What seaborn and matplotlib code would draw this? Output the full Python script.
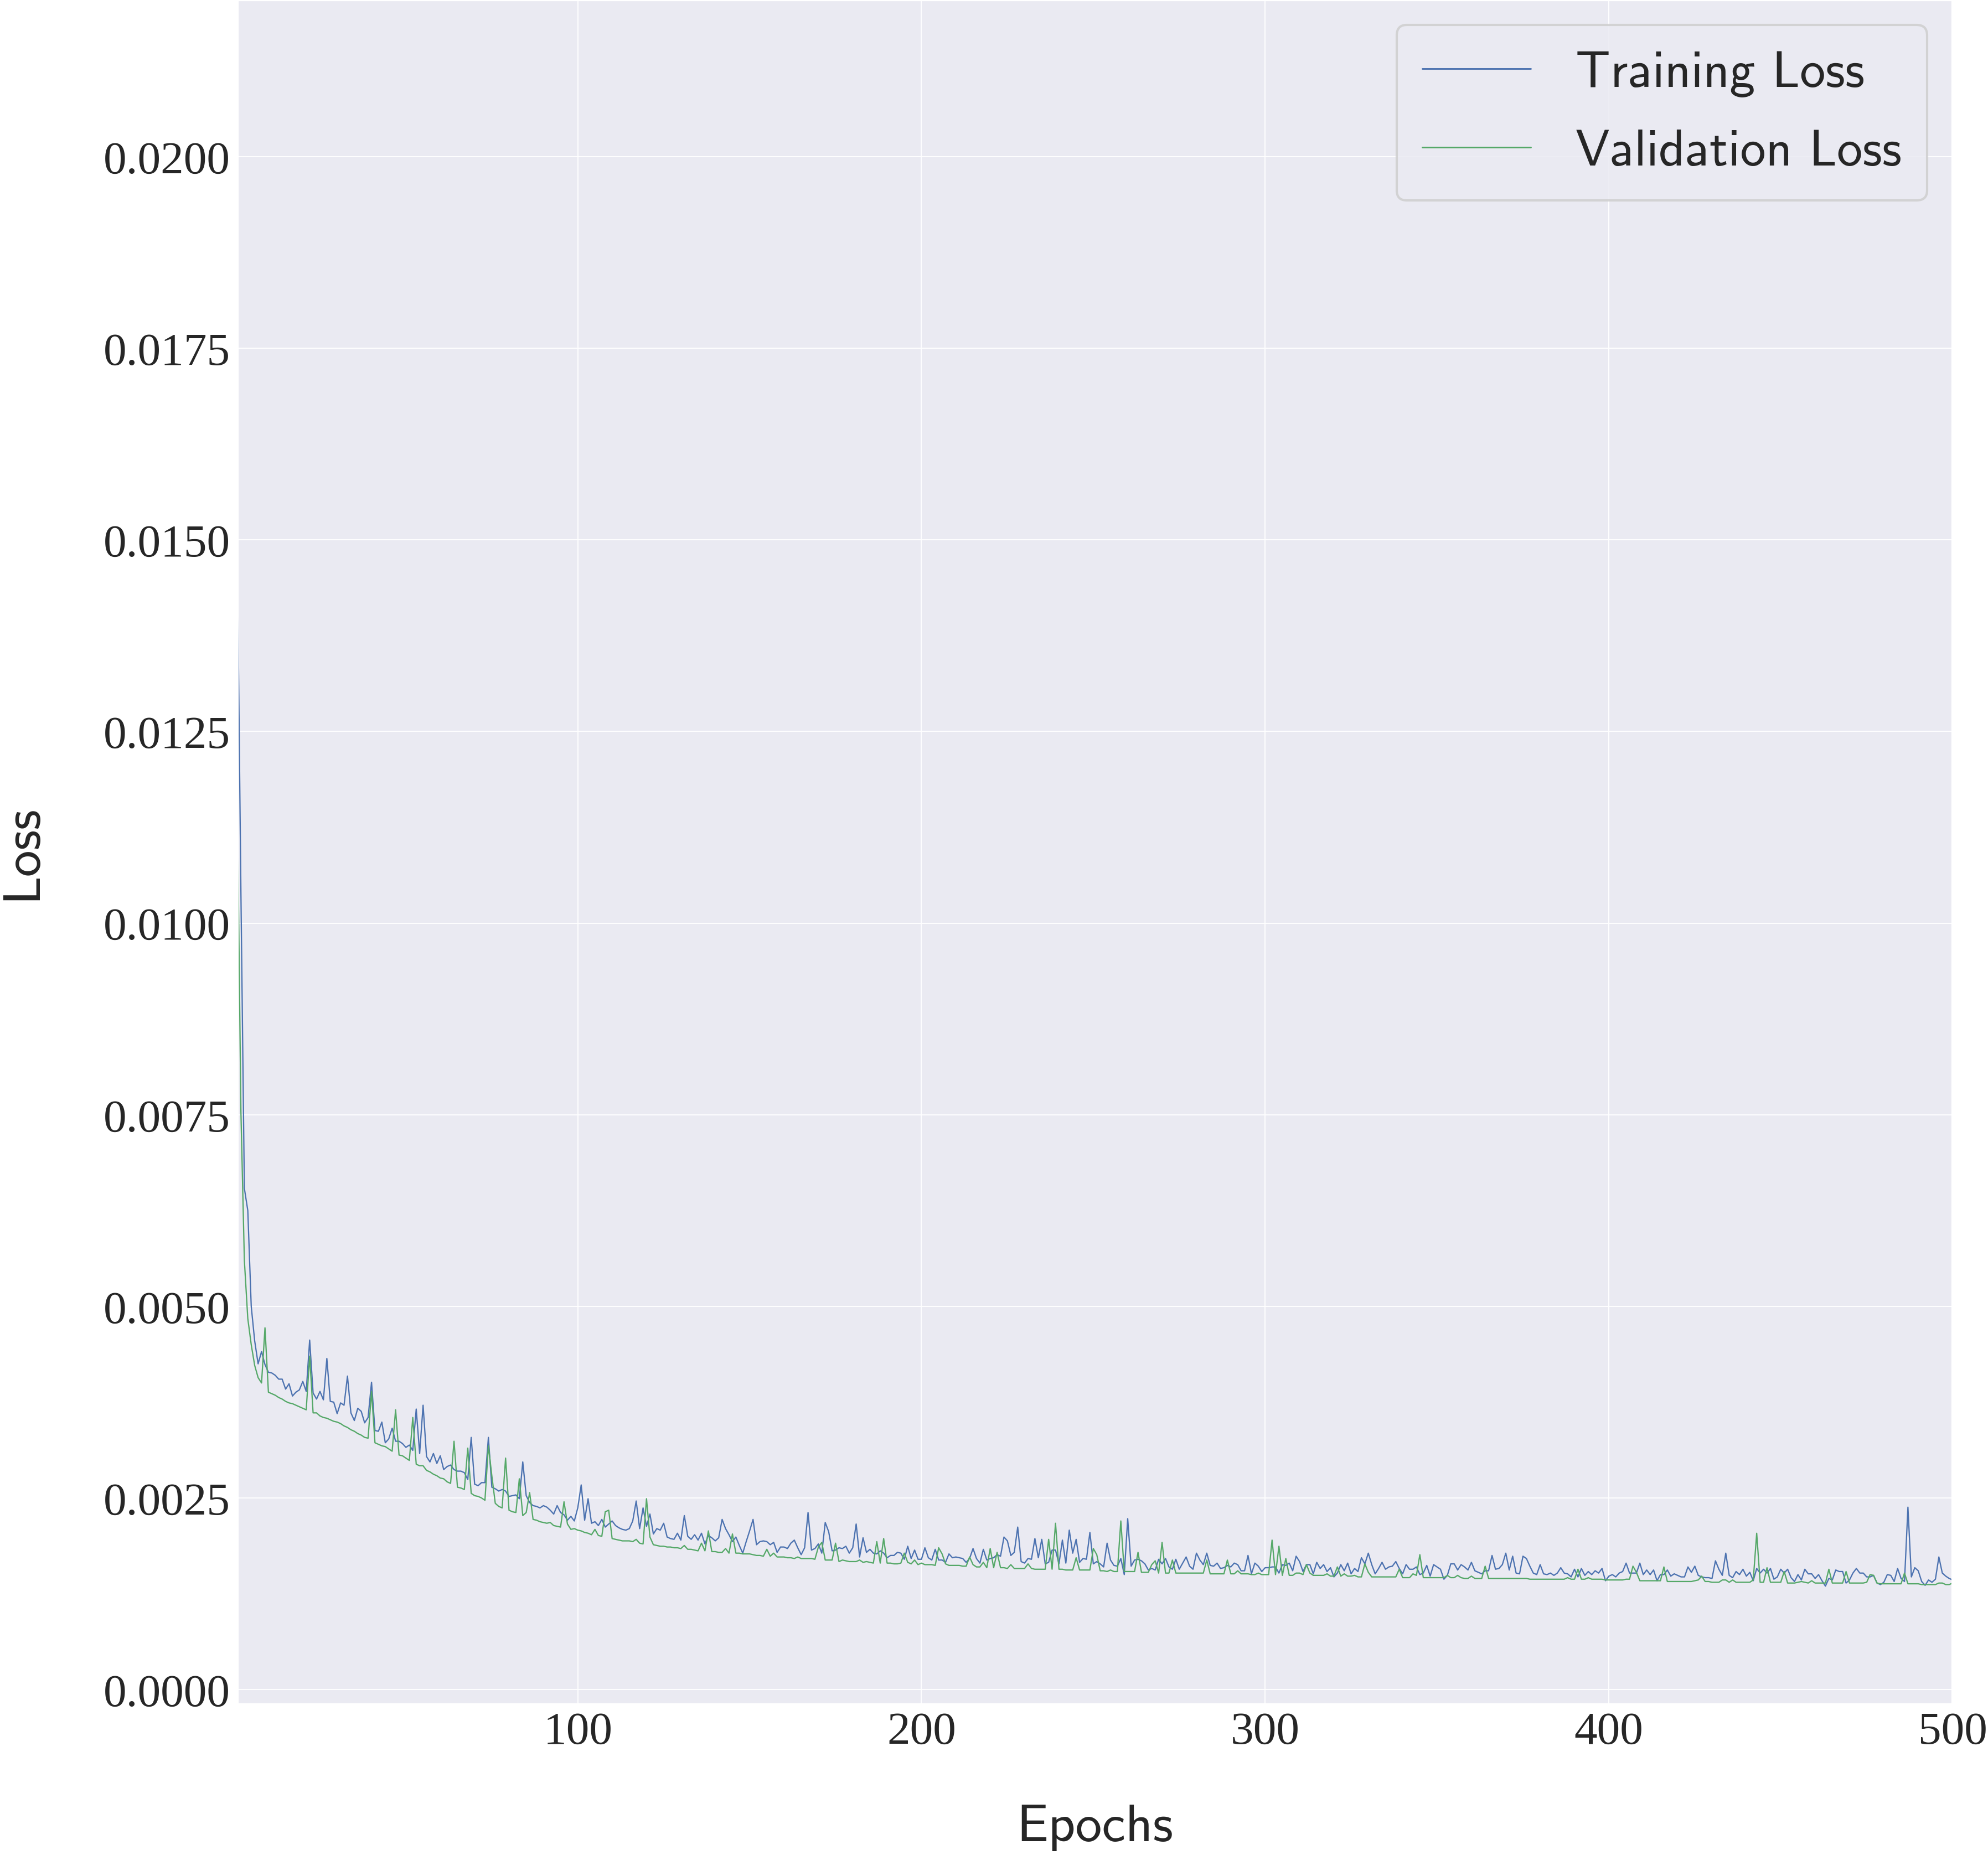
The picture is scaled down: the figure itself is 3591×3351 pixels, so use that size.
import numpy as np
import pandas as pd
import matplotlib
matplotlib.use("Agg")
import matplotlib.pyplot as plt
import seaborn as sns
from matplotlib.ticker import FormatStrFormatter, MultipleLocator

# loss values, in units of 1e-4, epochs 1..500
epochs = list(range(1, 501))

train_loss_e4 = [
    146, 104, 65.4, 62.5, 50.0, 45.5, 42.5, 44.1, 42.4, 41.4,
    41.3, 41.0, 40.5, 40.5, 39.2, 39.9, 38.3, 38.8, 39.1, 40.2,
    38.9, 45.6, 38.7, 37.9, 38.9, 37.8, 43.2, 37.6, 37.5, 36.0,
    37.4, 37.1, 40.9, 36.1, 35.1, 36.7, 36.3, 34.8, 35.5, 40.1,
    33.8, 33.7, 34.9, 32.2, 32.7, 34.1, 32.4, 32.4, 32.1, 31.6,
    31.9, 31.2, 36.6, 30.8, 37.1, 30.4, 29.7, 30.8, 29.5, 30.5,
    28.7, 29.1, 29.3, 28.7, 28.5, 28.5, 28.3, 27.4, 32.9, 26.8,
    26.6, 27.0, 27.0, 32.9, 26.4, 26.2, 25.9, 26.1, 25.9, 25.2,
    25.3, 25.4, 24.9, 29.7, 25.3, 24.4, 24.0, 23.9, 23.7, 24.0,
    23.8, 23.4, 22.9, 24.0, 23.1, 22.8, 22.1, 22.6, 22.0, 23.7,
    26.7, 22.1, 24.9, 21.7, 21.9, 21.4, 22.2, 21.2, 21.6, 22.0,
    21.4, 21.1, 20.9, 20.8, 21.0, 22.0, 24.6, 21.0, 23.7, 21.3,
    22.9, 20.3, 21.0, 20.8, 21.7, 19.9, 19.7, 19.6, 20.4, 19.5,
    22.7, 20.0, 19.6, 20.2, 19.5, 20.4, 19.0, 20.1, 19.8, 19.4,
    19.8, 22.2, 21.0, 20.2, 19.3, 19.9, 18.8, 17.8, 19.3, 20.7,
    22.2, 18.9, 19.3, 19.4, 19.3, 18.9, 19.2, 17.9, 18.6, 18.6,
    18.4, 19.1, 19.5, 18.5, 17.6, 18.5, 23.1, 18.2, 18.4, 19.0,
    17.8, 21.8, 20.6, 18.1, 18.2, 18.5, 18.4, 18.7, 17.8, 18.5,
    21.6, 17.3, 19.8, 17.9, 18.3, 17.8, 17.7, 18.1, 17.8, 17.2,
    17.5, 17.5, 17.9, 17.8, 17.0, 18.7, 17.1, 18.2, 17.0, 17.0,
    18.5, 17.2, 16.9, 18.3, 16.9, 16.9, 16.6, 17.7, 17.2, 17.3,
    17.2, 17.1, 16.6, 17.1, 18.4, 17.1, 16.5, 18.3, 16.9, 17.1,
    17.2, 17.6, 17.4, 19.9, 19.4, 17.5, 17.9, 21.2, 16.7, 16.5,
    17.1, 17.0, 19.7, 17.2, 19.6, 16.4, 16.6, 18.2, 18.2, 16.4,
    19.5, 16.5, 20.8, 17.8, 19.6, 16.6, 17.1, 17.0, 20.5, 16.4,
    16.7, 16.4, 16.0, 19.1, 16.9, 16.2, 16.1, 17.1, 15.0, 22.3,
    16.1, 16.9, 17.0, 16.8, 16.4, 15.6, 15.8, 15.6, 17.0, 16.4,
    17.1, 16.0, 15.7, 17.0, 15.7, 16.5, 17.3, 16.1, 15.7, 17.8,
    16.9, 16.3, 17.8, 16.2, 16.1, 16.5, 15.8, 15.9, 16.2, 16.0,
    16.5, 16.3, 15.5, 15.5, 17.5, 15.1, 16.5, 16.1, 15.4, 15.9,
    15.9, 16.0, 16.0, 15.2, 16.3, 16.2, 16.5, 15.5, 17.4, 16.7,
    15.4, 16.3, 16.3, 15.1, 16.6, 15.8, 16.3, 15.4, 15.9, 14.7,
    15.2, 16.3, 15.5, 16.5, 15.1, 15.8, 15.4, 17.2, 16.4, 17.8,
    16.3, 15.1, 15.8, 16.6, 15.7, 16.0, 16.1, 16.7, 15.8, 15.1,
    16.3, 15.7, 15.7, 16.0, 15.0, 15.2, 16.2, 14.8, 16.3, 16.0,
    15.7, 14.4, 14.9, 16.4, 16.4, 15.6, 16.3, 16.0, 15.6, 16.6,
    15.5, 15.3, 15.1, 15.5, 15.5, 17.5, 15.7, 15.8, 16.3, 17.8,
    15.6, 17.4, 15.2, 15.1, 17.4, 17.1, 16.1, 15.2, 15.0, 16.3,
    15.1, 15.0, 15.2, 14.9, 15.2, 15.9, 15.2, 15.1, 14.7, 15.7,
    14.7, 15.8, 14.9, 15.4, 15.0, 15.5, 15.2, 15.8, 14.2, 14.8,
    15.0, 14.7, 15.2, 15.4, 16.5, 15.2, 15.2, 15.2, 16.5, 15.0,
    15.6, 15.0, 15.6, 14.2, 15.0, 15.0, 15.6, 14.8, 15.1, 14.9,
    14.7, 14.7, 16.0, 15.3, 16.1, 14.9, 14.7, 14.6, 14.6, 14.5,
    16.8, 15.7, 14.9, 17.8, 14.9, 14.6, 15.4, 15.0, 15.7, 14.8,
    15.3, 14.2, 15.8, 15.2, 15.7, 15.2, 15.8, 14.4, 14.7, 15.7,
    15.2, 15.7, 14.6, 14.1, 15.0, 14.3, 15.7, 15.1, 15.1, 14.5,
    15.0, 14.2, 13.5, 14.5, 14.3, 15.6, 15.4, 15.4, 13.9, 14.3,
    15.2, 15.8, 15.2, 15.2, 14.7, 14.7, 14.9, 13.9, 13.7, 14.0,
    15.0, 14.9, 14.1, 15.8, 14.5, 14.1, 23.8, 14.7, 15.9, 15.5,
    14.1, 13.6, 14.3, 14.0, 14.4, 17.3, 15.2, 14.8, 14.5, 14.3,
]

val_loss_e4 = [
    114, 75.4, 56.0, 48.4, 45.0, 42.3, 40.7, 40.0, 47.2, 38.8,
    38.6, 38.4, 38.1, 37.9, 37.6, 37.4, 37.3, 37.1, 36.9, 36.7,
    36.5, 43.5, 36.1, 36.1, 35.7, 35.5, 35.4, 35.2, 35.0, 34.9,
    34.7, 34.4, 34.2, 33.9, 33.7, 33.4, 33.2, 32.9, 32.8, 38.9,
    32.2, 32.0, 31.8, 31.7, 31.4, 31.1, 36.5, 30.6, 30.5, 30.2,
    29.9, 35.5, 29.4, 29.2, 29.2, 28.6, 28.4, 28.1, 27.9, 27.6,
    27.5, 27.1, 26.9, 32.4, 26.4, 26.3, 26.1, 31.5, 25.6, 25.3,
    25.2, 25.0, 24.7, 31.8, 27.9, 24.3, 23.9, 23.7, 30.2, 23.4,
    23.2, 23.1, 27.5, 22.7, 23.1, 25.7, 22.2, 22.1, 21.9, 21.8,
    21.7, 21.8, 21.4, 21.3, 21.2, 24.5, 21.6, 20.9, 21.0, 20.8,
    20.7, 20.5, 20.4, 20.2, 20.9, 20.1, 20.0, 23.2, 23.4, 19.7,
    19.6, 19.5, 19.4, 19.4, 19.4, 19.3, 19.6, 19.1, 19.0, 24.9,
    19.9, 18.9, 18.8, 18.7, 18.7, 18.6, 18.6, 18.5, 18.5, 18.4,
    18.8, 18.3, 18.3, 18.2, 18.1, 19.1, 18.1, 20.7, 18.0, 18.0,
    17.9, 17.9, 18.4, 17.8, 20.3, 17.8, 17.8, 17.7, 17.7, 17.7,
    17.6, 17.5, 17.5, 17.4, 18.3, 17.4, 17.8, 17.3, 17.3, 17.3,
    17.2, 17.2, 17.1, 17.3, 17.1, 17.1, 17.1, 17.1, 17.0, 18.6,
    19.2, 16.9, 16.9, 16.9, 19.1, 16.7, 16.9, 16.8, 16.7, 16.7,
    16.7, 16.9, 16.6, 16.7, 16.6, 16.5, 19.3, 16.5, 19.7, 16.5,
    16.5, 16.4, 16.4, 16.5, 17.8, 16.6, 16.4, 16.9, 16.3, 16.5,
    16.3, 16.3, 16.3, 16.2, 18.5, 17.7, 16.4, 16.2, 16.2, 16.2,
    16.2, 16.1, 16.1, 17.3, 16.3, 16.0, 16.0, 16.6, 15.9, 18.4,
    15.9, 17.9, 15.9, 15.9, 15.8, 16.3, 15.8, 15.8, 15.8, 15.8,
    16.4, 15.8, 15.7, 15.7, 15.7, 15.7, 19.6, 15.7, 21.7, 15.7,
    15.7, 15.6, 15.6, 15.6, 17.2, 15.6, 15.6, 15.6, 15.6, 18.4,
    17.6, 15.5, 15.5, 15.4, 15.6, 15.4, 15.4, 22.0, 15.4, 15.4,
    15.4, 15.4, 17.9, 15.3, 15.3, 15.3, 16.3, 16.8, 15.2, 19.2,
    15.2, 15.2, 16.9, 15.2, 15.2, 15.2, 15.2, 15.2, 15.2, 15.2,
    15.2, 15.2, 16.9, 15.1, 15.1, 15.1, 15.1, 15.1, 16.9, 15.1,
    15.1, 15.5, 15.1, 15.1, 15.1, 15.0, 15.0, 15.2, 15.0, 15.0,
    15.0, 19.5, 15.0, 18.7, 14.9, 17.1, 14.9, 14.9, 15.2, 15.2,
    15.0, 16.3, 15.2, 14.9, 14.9, 14.9, 14.9, 15.1, 14.8, 14.8,
    16.0, 14.8, 15.1, 14.8, 14.8, 14.9, 14.7, 14.7, 16.4, 15.3,
    14.7, 14.7, 14.7, 14.7, 14.7, 14.7, 14.7, 14.7, 15.7, 14.6,
    14.6, 14.6, 15.1, 14.9, 17.6, 14.6, 14.6, 14.6, 14.6, 14.6,
    14.6, 14.6, 14.9, 14.6, 14.6, 14.9, 14.6, 14.5, 14.5, 14.8,
    14.5, 14.5, 14.5, 16.1, 14.5, 14.5, 14.5, 14.5, 14.5, 14.5,
    14.5, 14.5, 14.5, 14.5, 14.5, 14.5, 14.4, 14.4, 14.4, 14.4,
    14.4, 14.4, 14.4, 14.4, 14.4, 14.4, 14.4, 14.6, 14.4, 14.4,
    15.7, 14.4, 14.4, 14.6, 14.4, 14.4, 14.4, 14.4, 14.3, 14.3,
    14.3, 14.3, 14.3, 14.3, 14.4, 14.4, 16.1, 15.3, 14.2, 14.2,
    14.2, 14.2, 14.2, 14.2, 14.2, 16.0, 14.1, 14.1, 14.1, 14.1,
    14.1, 14.1, 14.1, 14.1, 14.2, 14.3, 14.8, 14.1, 14.1, 14.0,
    14.0, 14.0, 14.3, 14.3, 14.0, 14.3, 14.0, 14.0, 14.0, 14.0,
    14.0, 14.3, 20.4, 14.0, 14.0, 15.9, 14.0, 14.0, 14.0, 14.0,
    15.4, 13.9, 13.9, 13.9, 14.0, 14.1, 14.0, 13.9, 14.2, 13.9,
    13.9, 13.9, 13.9, 15.7, 13.9, 13.9, 13.9, 13.9, 15.4, 13.9,
    13.9, 13.9, 13.9, 13.9, 14.0, 15.0, 14.9, 13.9, 13.8, 13.8,
    13.8, 13.8, 13.8, 13.8, 13.8, 15.2, 13.8, 13.8, 13.8, 13.8,
    13.7, 13.7, 13.7, 13.7, 13.7, 13.9, 13.9, 13.7, 13.7, 13.9,
]

series_names = ["Training Loss", "Validation Loss"]

sns.set_theme(style="darkgrid")

df = pd.DataFrame({
    "Epochs": epochs * 2,
    "Loss": np.array(train_loss_e4 + val_loss_e4) * 1e-4,
    "series": [series_names[0]] * len(epochs) + [series_names[1]] * len(epochs),
})

deep = sns.color_palette("deep")
fig = plt.figure(figsize=(11.97, 11.173), dpi=300)
ax = fig.add_axes([0.1192, 0.0811, 0.8630, 0.9189])

sns.lineplot(data=df, x="Epochs", y="Loss", hue="series", palette=[deep[0], deep[2]],
             linewidth=0.55, ax=ax)

ax.set_xlim(0.85, 500)
ax.set_ylim(-0.000195, 0.02205)
ax.yaxis.set_major_locator(MultipleLocator(0.0025))
ax.yaxis.set_major_formatter(FormatStrFormatter("%.4f"))
ax.xaxis.set_major_locator(MultipleLocator(100))
ax.grid(True, color="white", linewidth=0.45)

for lbl in ax.get_xticklabels() + ax.get_yticklabels():
    lbl.set_family("Liberation Serif")
    lbl.set_fontsize(20)
ax.tick_params(axis="both", pad=3, length=0)

ax.set_xlabel("Epochs", family="cmss10", fontsize=23, labelpad=22)
ax.set_ylabel("Loss", family="cmss10", fontsize=23, labelpad=25)

leg = ax.legend(loc="upper right", prop={"family": "cmss10", "size": 22.2},
                labelspacing=0.62, handlelength=2.12, handletextpad=0.87,
                borderpad=0.5)
for line in leg.get_lines():
    line.set_linewidth(0.7)

fig.savefig("out.png", dpi=300)
